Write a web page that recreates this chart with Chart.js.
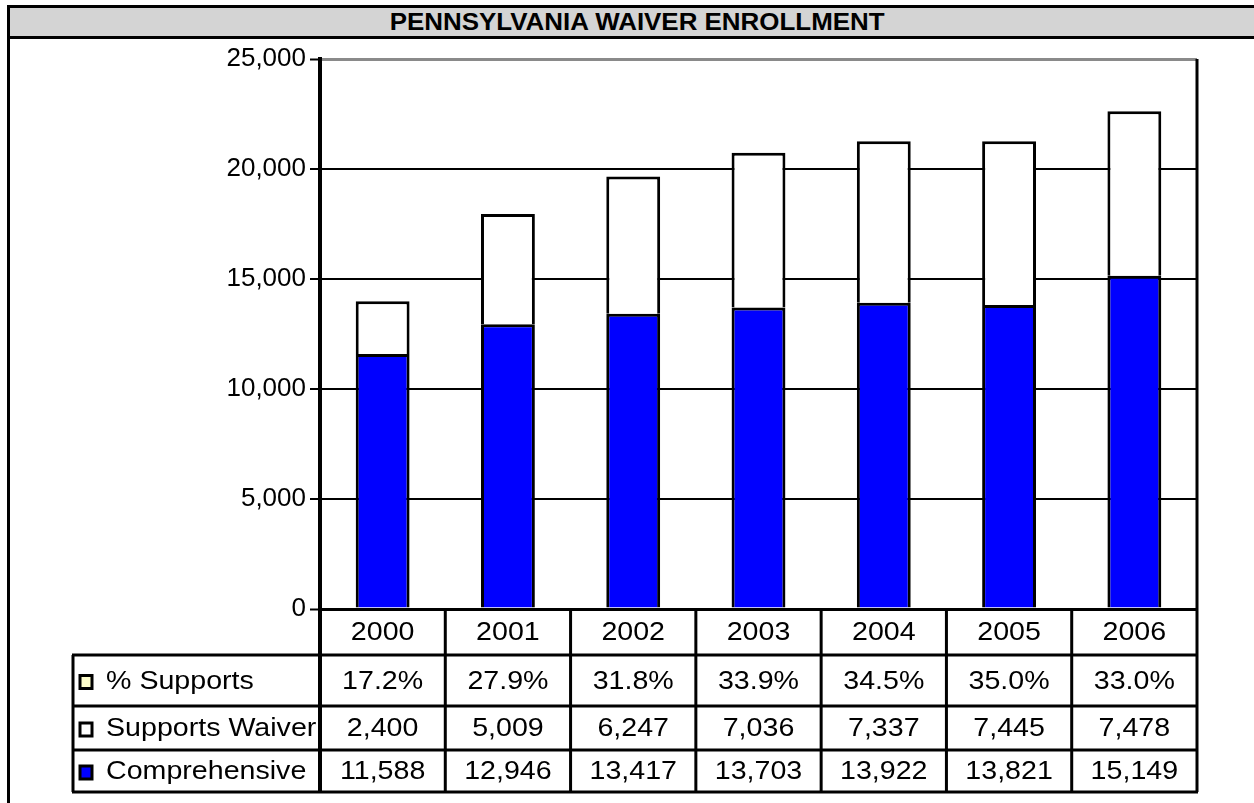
<!DOCTYPE html>
<html>
<head>
<meta charset="utf-8">
<script src="https://cdn.jsdelivr.net/npm/chart.js@4.4.1/dist/chart.umd.min.js"></script>
<style>
  html, body { margin: 0; padding: 0; background: #fff; }
  #wrap { position: relative; width: 1254px; height: 803px; overflow: hidden; }
  .frame { position: absolute; left: 7px; top: 5px; width: 1300px; height: 820px;
    border-left: 3px solid #000; border-top: 3px solid #000; }
  .title { position: absolute; left: 0; top: 0; right: 0; height: 28px; background: #d4d4d4;
    border-bottom: 3px solid #000; text-align: center; line-height: 29px;
    font: bold 24px "Liberation Sans", Arial, sans-serif; color: #000; }
  .title span { display: inline-block; transform: scaleX(1.08); margin-left: -46px; }
  canvas { position: absolute; left: 0; top: 0; }
</style>
</head>
<body>
<div id="wrap">
  <div class="frame"><div class="title"><span>PENNSYLVANIA WAIVER ENROLLMENT</span></div></div>
  <canvas id="chart" width="1254" height="803"></canvas>
</div>
<script>
// values
const years = ['2000', '2001', '2002', '2003', '2004', '2005', '2006'];
const pctSupports = [17.2, 27.9, 31.8, 33.9, 34.5, 35.0, 33.0];
const supportsWaiver = [2400, 5009, 6247, 7036, 7337, 7445, 7478];
const comprehensive = [11588, 12946, 13417, 13703, 13922, 13821, 15149];
const yTicks = [0, 5000, 10000, 15000, 20000, 25000];

const FONT = '"Liberation Sans", Arial, sans-serif';
const STRETCH = 1.1;

const tableRows = [
  { label: '% Supports', swatch: '#ffffcc', cells: pctSupports.map(v => v.toFixed(1) + '%') },
  { label: 'Supports Waiver', swatch: '#ffffff', cells: supportsWaiver.map(v => v.toLocaleString('en-US')) },
  { label: 'Comprehensive', swatch: '#0000ff', cells: comprehensive.map(v => v.toLocaleString('en-US')) },
];

function stretchText(ctx, text, x, y) {
  ctx.save();
  ctx.translate(x, y);
  ctx.scale(STRETCH, 1);
  ctx.fillText(text, 0, 0);
  ctx.restore();
}

// data table under the plot, columns taken from the x scale
const dataTable = {
  id: 'dataTable',
  afterDraw(chart) {
    const ctx = chart.ctx;
    const area = chart.chartArea;
    const xs = chart.scales.x;
    const half = (xs.getPixelForValue(1) - xs.getPixelForValue(0)) / 2;
    const left = 73;
    const rowY = [area.bottom, area.bottom + 46, area.bottom + 97, area.bottom + 141, area.bottom + 183];

    ctx.save();
    ctx.fillStyle = '#000';
    ctx.font = '26px ' + FONT;
    ctx.textBaseline = 'middle';

    // year header
    ctx.textAlign = 'center';
    years.forEach((y, i) => {
      stretchText(ctx, y, xs.getPixelForValue(i), (rowY[0] + rowY[1]) / 2 + 1);
    });

    tableRows.forEach((row, r) => {
      const top = rowY[r + 1], bot = rowY[r + 2];
      const mid = (top + bot) / 2 + 1;
      // swatch
      ctx.fillStyle = row.swatch;
      ctx.fillRect(80, mid - 6, 12, 13);
      ctx.strokeStyle = '#000';
      ctx.lineWidth = 3;
      ctx.strokeRect(80, mid - 6, 12, 13);
      // label, clipped at the first column
      ctx.save();
      ctx.beginPath();
      ctx.rect(left, top, area.left - left, bot - top);
      ctx.clip();
      ctx.fillStyle = '#000';
      ctx.textAlign = 'left';
      stretchText(ctx, row.label, 106, mid);
      ctx.restore();
      // values
      ctx.fillStyle = '#000';
      ctx.textAlign = 'center';
      row.cells.forEach((c, i) => stretchText(ctx, c, xs.getPixelForValue(i), mid));
    });

    // grid lines of the table
    ctx.strokeStyle = '#000';
    ctx.lineWidth = 3;
    ctx.beginPath();
    for (let k = 1; k < rowY.length; k++) {
      ctx.moveTo(left - 1, rowY[k]);
      ctx.lineTo(area.right + 1, rowY[k]);
    }
    ctx.moveTo(left, rowY[1]);
    ctx.lineTo(left, rowY[4]);
    for (let i = 0; i <= years.length; i++) {
      const x = i < years.length ? xs.getPixelForValue(i) - half : xs.getPixelForValue(i - 1) + half;
      ctx.moveTo(x, rowY[0]);
      ctx.lineTo(x, rowY[4]);
    }
    ctx.stroke();
    ctx.lineWidth = 4;
    ctx.beginPath();
    ctx.moveTo(area.left, rowY[0]);
    ctx.lineTo(area.left, rowY[4] + 1);
    ctx.stroke();

    // right border of the plot
    ctx.lineWidth = 3;
    ctx.beginPath();
    ctx.moveTo(area.right, area.top);
    ctx.lineTo(area.right, area.bottom);
    ctx.stroke();
    ctx.restore();
  }
};

new Chart(document.getElementById('chart'), {
  type: 'bar',
  data: {
    labels: years,
    datasets: [
      { label: 'Comprehensive', data: comprehensive, backgroundColor: '#0000ff',
        borderColor: '#000', borderWidth: 3 },
      { label: 'Supports Waiver', data: supportsWaiver, backgroundColor: '#ffffff',
        borderColor: '#000', borderWidth: 3 },
    ]
  },
  options: {
    responsive: false,
    animation: false,
    layout: { padding: { left: 210, top: 59, right: 57, bottom: 194 } },
    plugins: { legend: { display: false }, tooltip: { enabled: false } },
    datasets: { bar: { categoryPercentage: 1, barPercentage: 0.43 } },
    scales: {
      x: { stacked: true, display: false },
      y: {
        stacked: true, min: 0, max: 25000,
        afterFit(scale) { scale.width = 110; },
        afterBuildTicks(scale) { scale.ticks = yTicks.map(v => ({ value: v })); },
        ticks: { color: '#000', padding: 4, font: { family: FONT, size: 26 },
          callback: v => v.toLocaleString('en-US') },
        grid: {
          color: c => c.tick && c.tick.value === 25000 ? '#8a8a8a' : '#000',
          lineWidth: c => c.tick && (c.tick.value === 25000 || c.tick.value === 0) ? 3 : 2,
          tickColor: '#000', tickLength: 10, tickWidth: 2
        },
        border: { display: true, color: '#000', width: 4 }
      }
    }
  },
  plugins: [dataTable]
});
</script>
</body>
</html>
